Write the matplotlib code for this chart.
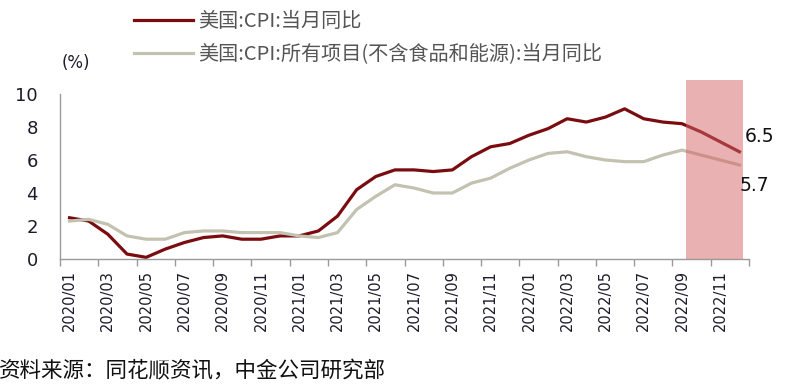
import matplotlib
matplotlib.use('Agg')
import matplotlib.pyplot as plt
import numpy as np

plt.rcParams['font.family'] = ['DejaVu Sans', 'Noto Sans CJK SC']

# monthly data, 2020/01 - 2022/12
months = [f"{y}/{m:02d}" for y in (2020, 2021, 2022) for m in range(1, 13)]
cpi_yoy = [2.5, 2.3, 1.5, 0.3, 0.1, 0.6, 1.0, 1.3, 1.4, 1.2, 1.2, 1.4,
           1.4, 1.7, 2.6, 4.2, 5.0, 5.4, 5.4, 5.3, 5.4, 6.2, 6.8, 7.0,
           7.5, 7.9, 8.5, 8.3, 8.6, 9.1, 8.5, 8.3, 8.2, 7.7, 7.1, 6.5]
core_yoy = [2.3, 2.4, 2.1, 1.4, 1.2, 1.2, 1.6, 1.7, 1.7, 1.6, 1.6, 1.6,
            1.4, 1.3, 1.6, 3.0, 3.8, 4.5, 4.3, 4.0, 4.0, 4.6, 4.9, 5.5,
            6.0, 6.4, 6.5, 6.2, 6.0, 5.9, 5.9, 6.3, 6.6, 6.3, 6.0, 5.7]
series_names = ['美国:CPI:当月同比', '美国:CPI:所有项目(不含食品和能源):当月同比']
source_text = '资料来源：同花顺资讯，中金公司研究部'

red = '#7a0c10'
grey = '#c3c2b1'
text_col = '#1b1b2b'

fig = plt.figure(figsize=(7.9, 3.87), dpi=100)
ax = fig.add_axes([60 / 790, 1 - 259 / 387, 689 / 790, 165 / 387])

x = np.arange(len(months))
l1, = ax.plot(x, cpi_yoy, color=red, lw=2.3, solid_joinstyle='round')
l2, = ax.plot(x, core_yoy, color=grey, lw=2.3, solid_joinstyle='round')

# highlighted last months
ax.axvspan(32.2, 35.2, ymin=0, ymax=1.085, color='#d46466', alpha=0.5,
           lw=0, clip_on=False, zorder=3)

ax.set_xlim(-0.5, len(months) - 0.5)
ax.set_ylim(0, 10)
ax.set_yticks([0, 2, 4, 6, 8, 10])
ax.tick_params(axis='y', length=0, pad=16, labelsize=13, labelcolor=text_col)

# category axis: ticks between every two months, labels on odd months
ax.set_xticks(np.arange(-0.5, len(months), 2), minor=False)
ax.set_xticklabels([])
ax.set_xticks(x[::2], minor=True)
ax.set_xticklabels(months[::2], minor=True, rotation=90, fontsize=10.5,
                   color=text_col)
ax.tick_params(axis='x', which='major', length=5, color='#9a9a9a', width=1)
ax.tick_params(axis='x', which='minor', length=0, pad=8)

for s in ('top', 'right'):
    ax.spines[s].set_visible(False)
for s in ('left', 'bottom'):
    ax.spines[s].set_color('#9a9a9a')
    ax.spines[s].set_linewidth(1)

ax.text(-0.4, 11.9, '(%)', fontsize=12, color=text_col, ha='left', va='center')

ax.annotate(f'{cpi_yoy[-1]:.1f}', (x[-1], cpi_yoy[-1]), xytext=(4, 11),
            textcoords='offset points', fontsize=13.5, color='#111111',
            ha='left', va='center', annotation_clip=False)
ax.annotate(f'{core_yoy[-1]:.1f}', (x[-1], core_yoy[-1]), xytext=(0, -15),
            textcoords='offset points', fontsize=13.5, color='#111111',
            ha='left', va='center', annotation_clip=False)

fig.legend([l1, l2], series_names, loc='upper left',
           bbox_to_anchor=(116 / 790, 1 + 7 / 387), frameon=False,
           handlelength=2.9, handletextpad=0.3, labelspacing=0.6,
           prop={'family': ['Noto Sans CJK SC'], 'size': 14.5},
           labelcolor='#555555')

fig.text(-1 / 790, 1 - 371 / 387, source_text, fontsize=15.5,
         family=['Noto Sans CJK SC'], color='#111111', ha='left', va='center')

fig.savefig('out.png', dpi=100)
